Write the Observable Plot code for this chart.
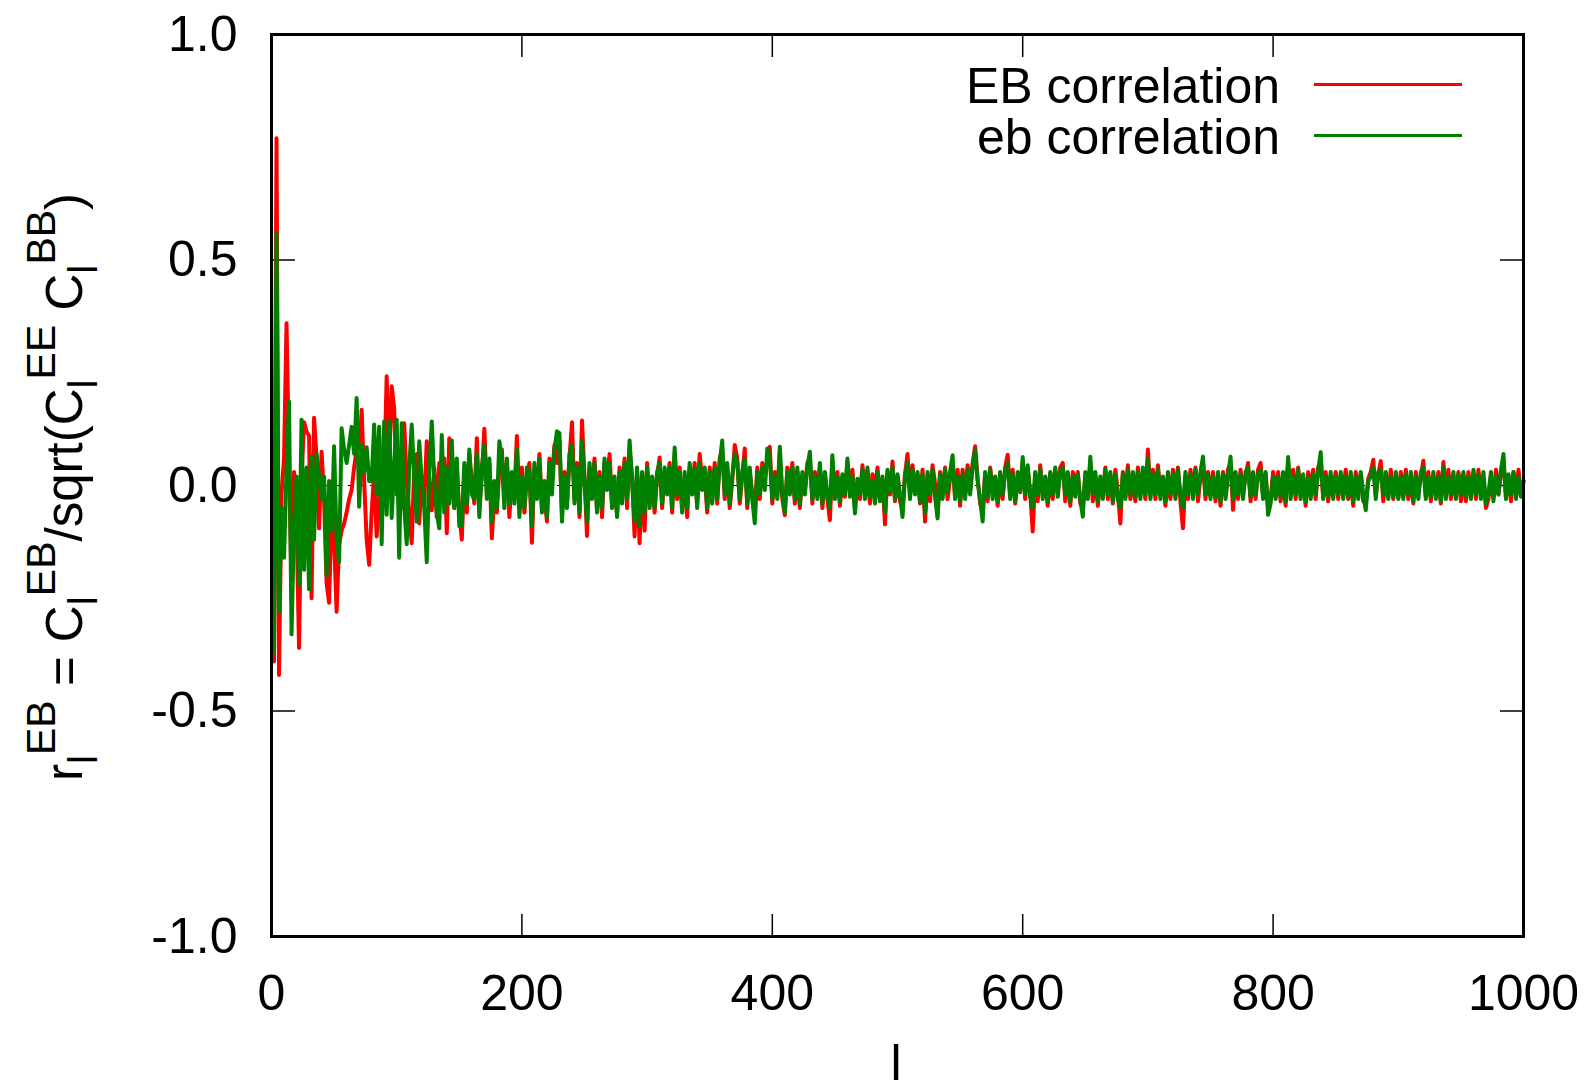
<!DOCTYPE html>
<html><head><meta charset="utf-8">
<script src="https://cdn.jsdelivr.net/npm/d3@7"></script>
<script src="https://cdn.jsdelivr.net/npm/@observablehq/plot@0.6"></script>
<style>html,body{margin:0;padding:0;background:#fff;} svg{display:block}</style>
</head><body><div id="chart"></div>
<script>
// multipole l (every second multipole, 2..1000)
const ell = d3.range(2, 1001, 2);

// EB correlation (red)
const ebRed = [
-.39,.77,-.42,-.02,.06,.36,.05,-.22,.03,-.08,
-.36,.02,.14,.12,.11,-.25,.15,.06,-.095,.075,
-.03,-.217,-.26,-.05,-.12,-.28,-.13,-.10,-.084,-.06,
-.03,-.01,.04,.08,.06,.168,.01,-.12,-.176,-.06,
.03,-.113,-.03,.06,.02,.242,.05,.22,.17,-.02,
.06,-.05,.138,.01,-.06,-.128,.04,.07,-.084,.02,
-.04,.098,.01,-.055,.04,-.07,.05,-.02,.06,-.106,
.105,0,-.05,.04,-.06,
-.12,.03,-.06,.07,.01,-.04,.105,-.05,.02,.126,-.01,.05,-.117,-.02,-.06,.04,.08,-.03,.05,-.07,.02,-.02,.11,-.05,.04,
-.06,.02,.05,-.127,.04,-.01,.07,-.05,-.02,-.08,.06,.01,.09,.05,.10,-.06,.03,-.04,.06,.14,-.03,.05,-.07,.144,.02,
-.112,.04,-.01,.06,-.05,.03,-.07,.05,.01,.07,-.04,-.01,-.06,.04,-.03,.06,-.05,.08,.02,-.113,.03,-.128,.02,-.10,.05,
-.04,.01,-.06,.02,.062,-.05,.03,.00,.05,-.06,.07,-.03,.04,-.05,.01,-.07,.04,-.01,.05,-.04,.07,.01,.03,-.06,.04,
-.03,.05,-.04,.06,.08,-.03,.04,-.05,.01,.09,.06,-.04,.02,.082,-.05,.03,-.02,-.06,.04,-.03,.05,.01,.06,.086,-.04,
.03,-.02,.07,-.03,-.066,.04,.00,.05,-.04,.03,-.05,.02,-.01,.05,.06,-.04,.03,-.02,.04,-.05,.02,-.03,-.077,.05,-.02,
.03,-.045,.01,-.025,.05,-.01,.035,-.05,.005,-.03,.045,-.015,.02,-.04,.025,-.01,.04,-.025,.015,-.086,.03,-.02,.053,-.035,.02,
-.035,-.05,.025,.07,-.015,.045,-.01,.025,-.04,.035,-.08,.015,-.035,.045,.005,-.06,.03,-.02,.04,-.03,.015,.05,-.025,.035,-.045,
.035,-.02,.045,-.01,.05,.087,.015,-.04,-.06,.025,-.035,.04,-.015,.01,-.045,.025,-.03,.04,.068,-.02,.035,-.04,.015,-.01,.05,
-.03,.035,-.015,-.102,.02,-.035,.045,-.02,.01,-.045,.025,-.03,.035,-.015,.04,.05,-.035,.02,-.045,.03,.005,.03,-.04,-.05,.02,
-.015,.05,-.035,.02,-.045,.01,-.02,.04,-.03,.025,-.04,.035,-.015,-.084,.03,-.025,.045,-.03,.01,-.035,.04,-.02,.03,-.03,.08,
-.02,.035,-.03,.045,-.015,.01,-.045,.02,-.03,.035,-.02,.04,-.035,-.095,.02,-.03,.035,-.01,.04,-.035,.02,.05,-.03,.03,-.02,
.03,-.035,.015,-.045,.03,-.02,.035,.05,-.054,.02,-.03,.035,-.015,.02,.05,-.035,.015,-.03,.035,.05,-.02,.025,-.05,-.03,.03,
-.02,.03,-.035,.015,-.045,.05,-.015,.035,-.03,.04,-.02,.015,-.045,.03,-.01,.035,-.03,.04,.06,-.025,.03,-.035,.02,-.015,.03,
-.03,.02,-.015,.035,-.03,.02,-.045,.03,-.015,.025,-.035,-.04,.015,.03,.057,-.02,.025,.054,-.035,.02,-.02,.035,-.03,.015,-.025,
.03,-.02,.035,-.03,.015,-.04,.03,-.015,.02,.055,-.025,.03,-.035,.02,-.015,.03,-.04,.052,-.02,.035,-.03,.015,-.025,.03,-.035,
.02,-.035,.03,-.015,.025,-.03,.035,-.02,.015,-.05,-.03,.02,-.025,.035,-.02,.03,.05,-.025,.02,-.035,.03,-.015,.035,-.02,.01
];

// eb correlation (green)
const ebGreen = [
-.37,.56,-.28,-.05,-.16,.03,.186,-.33,-.09,.02,
-.22,.146,-.187,.04,-.23,.064,-.12,.07,.02,-.03,
.02,-.2,.01,-.1,.087,-.12,-.17,.127,.08,.05,
.09,.13,.07,.194,-.047,.09,.03,.085,.01,.01,
.135,-.02,.13,-.13,.142,-.065,.142,-.072,.05,.146,
-.16,.138,-.047,-.13,.04,.135,.02,-.08,.098,.01,
-.05,-.17,.03,.142,.01,-.06,-.095,.112,-.06,.04,
-.04,.1,-.05,.06,-.09,
-.09,.05,-.04,.08,-.02,-.03,.07,-.07,.04,.09,-.03,.06,-.08,.01,-.05,.098,.06,-.05,.06,-.04,.03,-.04,.08,-.07,.02,
-.05,.04,.03,-.09,.05,-.03,.06,-.06,.01,-.07,.05,-.02,.08,.12,.116,-.08,.02,-.05,.07,.09,-.04,.04,-.06,.10,.01,
-.08,.05,-.03,.05,-.06,.02,-.05,.06,-.01,.05,-.05,.02,-.07,.03,-.04,.05,-.03,.10,.01,-.08,.04,-.09,.03,-.06,.04,
-.05,.02,-.05,.03,.05,-.04,.04,-.02,.04,-.05,.084,-.02,.03,-.06,.03,-.05,.05,-.02,.04,-.05,.05,-.01,.04,-.05,.03,
-.04,.04,-.03,.05,.10,-.02,.05,-.04,.02,.07,.05,-.03,.03,.06,-.04,.04,-.03,-.084,.03,-.02,.04,-.01,.082,.06,-.03,
.02,-.03,.086,-.02,-.06,.03,-.02,.04,-.03,.04,-.04,.03,-.02,.04,.075,-.03,.02,-.03,.05,-.04,.03,-.02,-.05,.067,-.03,
.02,-.035,.025,-.02,.06,-.025,.02,-.062,.015,-.02,.035,-.03,.04,-.025,.01,-.04,.03,-.035,.02,-.06,.035,-.015,.04,-.03,.025,
-.02,-.07,.02,.05,-.03,.035,-.02,.03,-.035,.025,-.06,.03,-.02,.035,-.025,-.073,.025,-.03,.035,-.015,.03,.067,-.03,.02,-.035,
.025,-.03,.035,-.02,.04,.078,.01,-.03,-.08,.03,-.025,.035,-.03,.02,-.035,.03,-.02,.03,.05,-.03,.025,-.035,.03,-.015,.063,
-.02,.045,-.025,-.05,.03,-.02,.035,-.03,.02,-.035,.03,-.02,.04,-.025,.03,.04,-.02,.03,-.035,.02,-.025,.025,-.03,-.069,.03,
-.03,.064,-.02,.03,-.035,.02,-.03,.035,-.02,.03,-.035,.025,-.03,-.05,.025,-.03,.035,-.02,.03,-.025,.03,-.03,.04,-.02,.06,
-.03,.025,-.02,.035,-.03,.02,-.035,.03,-.02,.025,-.03,.035,-.02,-.05,.03,-.02,.025,-.03,.035,-.02,.03,.064,-.02,.025,-.03,
.02,-.025,.03,-.035,.025,-.03,.02,.064,-.03,.03,-.02,.025,-.03,.03,.04,-.025,.03,-.02,.025,.035,-.03,.03,-.065,-.04,.02,
-.03,.02,-.025,.03,-.035,.063,-.03,.02,-.02,.035,-.03,.025,-.035,.02,-.03,.025,-.02,.03,.074,-.03,.02,-.025,.03,-.03,.02,
-.02,.03,-.03,.02,-.025,.03,-.035,.02,-.03,.03,-.02,-.055,.01,.02,.04,-.03,.03,.035,-.02,.03,-.03,.02,-.025,.03,-.03,
.02,-.03,.025,-.02,.03,-.035,.02,-.03,.03,.04,-.03,.02,-.025,.03,-.03,.02,-.035,.04,-.03,.02,-.02,.03,-.03,.025,-.02,
.03,-.025,.02,-.03,.035,-.02,.025,-.03,.03,-.04,-.02,.03,-.035,.02,-.02,.035,.07,-.03,.025,-.02,.03,-.03,.02,-.025,.01
];

const xTicks = [0, 200, 400, 600, 800, 1000];
const yTicks = [-1, -0.5, 0, 0.5, 1];
const seriesNames = ["EB correlation", "eb correlation"];
const seriesColors = ["#ff0000", "#008000"];

const n = Math.min(ell.length, ebRed.length, ebGreen.length);
const redData = d3.range(n).map(i => ({l: ell[i], r: ebRed[i]}));
const greenData = d3.range(n).map(i => ({l: ell[i], r: ebGreen[i]}));

const W = 1595, H = 1085;
const FONT = "'Liberation Sans', Arial, Helvetica, sans-serif";
const FS = 50;

const plot = Plot.plot({
  width: W, height: H,
  marginLeft: 271, marginRight: 72, marginTop: 34, marginBottom: 149,
  style: {fontFamily: FONT, background: "#fff", color: "#000", overflow: "visible"},
  x: {domain: [0, 1000]},
  y: {domain: [-1, 1]},
  marks: [
    Plot.ruleY([0], {stroke: "#000", strokeWidth: 1.2, strokeDasharray: "5,6"}),
    // inward ticks on all four sides
    Plot.axisX(xTicks, {anchor: "bottom", tickSize: 22, dy: -22, fill: "none", label: null, stroke: "#000", strokeWidth: 1.5}),
    Plot.axisX(xTicks, {anchor: "top", tickSize: 22, dy: 22, fill: "none", label: null, stroke: "#000", strokeWidth: 1.5}),
    Plot.axisY(yTicks, {anchor: "left", tickSize: 24, dx: 24, fill: "none", label: null, stroke: "#000", strokeWidth: 1.5}),
    Plot.axisY(yTicks, {anchor: "right", tickSize: 24, dx: -24, fill: "none", label: null, stroke: "#000", strokeWidth: 1.5}),
    // tick labels
    Plot.axisX(xTicks, {anchor: "bottom", tickSize: 0, tickPadding: 38, fontSize: FS, label: null, tickFormat: d => String(d), fill: "#000"}),
    Plot.axisY(yTicks, {anchor: "left", tickSize: 0, tickPadding: 34, fontSize: FS, label: null, tickFormat: d => d.toFixed(1), fill: "#000"}),
    Plot.line(redData, {x: "l", y: "r", stroke: seriesColors[0], strokeWidth: 4}),
    Plot.line(greenData, {x: "l", y: "r", stroke: seriesColors[1], strokeWidth: 4}),
    Plot.frame({stroke: "#000", strokeWidth: 3})
  ]
});
document.getElementById("chart").appendChild(plot);

const svg = d3.select(plot);

// x-axis label
svg.append("text").attr("x", 896).attr("y", 1080).attr("text-anchor", "middle")
  .style("font-family", FONT).style("font-size", FS + "px").attr("fill", "#000").text("l");

// y-axis label with sub/superscripts (rotated), gnuplot-style sequential sub then sup
const LFS = 51, SS = 41, SUB = 15, SUP = 27;
const yl = svg.append("text").attr("transform", "translate(82,487) rotate(-90)")
  .attr("text-anchor", "middle").style("font-family", FONT).style("font-size", LFS + "px").attr("fill", "#000");
function subsup(sup) {
  yl.append("tspan").style("font-size", SS + "px").attr("dy", SUB).text("l");
  yl.append("tspan").style("font-size", SS + "px").attr("dy", -(SUB + SUP)).text(sup);
}
yl.append("tspan").text("r");
subsup("EB");
yl.append("tspan").attr("dy", SUP).text("\u00a0=\u00a0C");
subsup("EB");
yl.append("tspan").attr("dy", SUP).text("/sqrt(C");
subsup("EE");
yl.append("tspan").attr("dy", SUP).text("\u00a0C");
subsup("BB");
yl.append("tspan").attr("dy", SUP).text(")");

// legend
const leg = svg.append("g").style("font-family", FONT).style("font-size", FS + "px");
seriesNames.forEach((name, i) => {
  const cy = 84.5 + i * 51;
  leg.append("text").attr("x", 1280).attr("y", cy).attr("dy", "0.36em").attr("text-anchor", "end").attr("fill", "#000").text(name);
  leg.append("line").attr("x1", 1314).attr("x2", 1462).attr("y1", cy).attr("y2", cy)
    .attr("stroke", seriesColors[i]).attr("stroke-width", 3);
});
</script>
</body></html>
